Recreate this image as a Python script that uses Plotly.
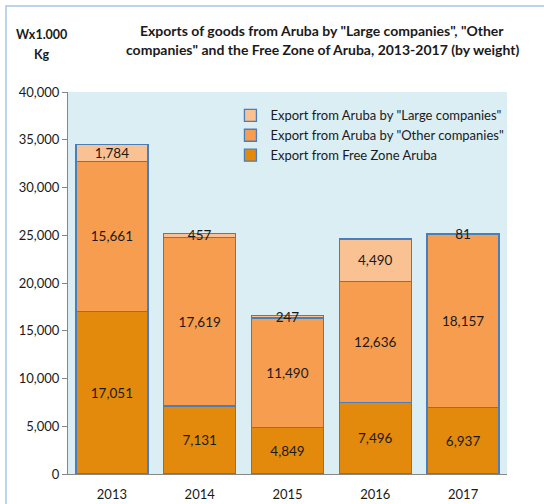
import plotly.graph_objects as go

# ── Data ──────────────────────────────────────────────────────────────────────
years = ["2013", "2014", "2015", "2016", "2017"]
free_zone = [17051, 7131, 4849, 7496, 6937]
other_companies = [15661, 17619, 11490, 12636, 18157]
large_companies = [1784, 457, 247, 4490, 81]

series = [
    ("Export from Free Zone Aruba", free_zone, "#E38A0C"),
    ('Export from Aruba by "Other companies"', other_companies, "#F79D4F"),
    ('Export from Aruba by "Large companies"', large_companies, "#FAC193"),
]

title_lines = [
    'Exports of goods from Aruba by "Large companies", "Other',
    'companies" and the Free Zone of Aruba, 2013-2017 (by weight)',
]
unit_lines = ["Wx1.000", "Kg"]

FONT = "Lato, 'Open Sans', sans-serif"

fig = go.Figure()
for name, vals, color in series:
    fig.add_trace(go.Bar(
        x=years,
        y=vals,
        name=name,
        marker=dict(color=color, line=dict(color="#4A7EBB", width=1.3)),
        text=[f"{v:,}" for v in vals],
        textposition="inside",
        insidetextanchor="middle",
        constraintext="none",
        textangle=0,
        textfont=dict(family=FONT, size=13.5, color="#1a1a1a"),
    ))

fig.update_layout(
    barmode="stack",
    bargap=0.18,
    width=544, height=504,
    margin=dict(l=68, r=37, t=92, b=30),
    paper_bgcolor="white",
    plot_bgcolor="#DBEEF4",
    font=dict(family=FONT, size=13, color="#1a1a1a"),
    showlegend=True,
    legend=dict(
        x=0.37, y=0.978, xanchor="left", yanchor="top",
        traceorder="reversed",
        bgcolor="rgba(0,0,0,0)",
        font=dict(size=13, family=FONT),
        itemwidth=30,
        tracegroupgap=0,
    ),
    xaxis=dict(
        showline=True, linecolor="#868686", linewidth=1,
        ticks="", tickfont=dict(size=13), ticklabelstandoff=8,
        automargin=False,
    ),
    yaxis=dict(
        range=[0, 40000], dtick=5000, tickformat=",",
        showgrid=False, zeroline=False,
        showline=True, linecolor="#868686", linewidth=1,
        ticks="outside", ticklen=5, tickcolor="#868686",
        tickfont=dict(size=13), automargin=False,
    ),
)

# title, one annotation per line (pixel rows 30 / 50)
for line, ypx in zip(title_lines, [30, 50]):
    fig.add_annotation(
        xref="paper", yref="paper", x=0.579, y=1 + (92 - ypx) / 382,
        xanchor="center", yanchor="middle", text=f"<b>{line}</b>",
        showarrow=False, font=dict(size=14, family=FONT),
    )

# unit label top-left
for line, ypx in zip(unit_lines, [35, 55]):
    fig.add_annotation(
        xref="paper", yref="paper", x=-0.06, y=1 + (92 - ypx) / 382,
        xanchor="center", yanchor="middle", text=f"<b>{line}</b>",
        showarrow=False, font=dict(size=12.5, family=FONT),
    )

# outer chart frame
fig.add_shape(
    type="rect", xref="paper", yref="paper",
    x0=-62 / 439, x1=1 + 60 / 439, y0=-60 / 382, y1=1 + 86 / 382,
    line=dict(color="#A6C5E6", width=1.5), fillcolor="rgba(0,0,0,0)",
    layer="above",
)

fig.write_html(
    "out.html",
    config={"displayModeBar": False},
    post_script="document.body.style.margin='0';",
)
